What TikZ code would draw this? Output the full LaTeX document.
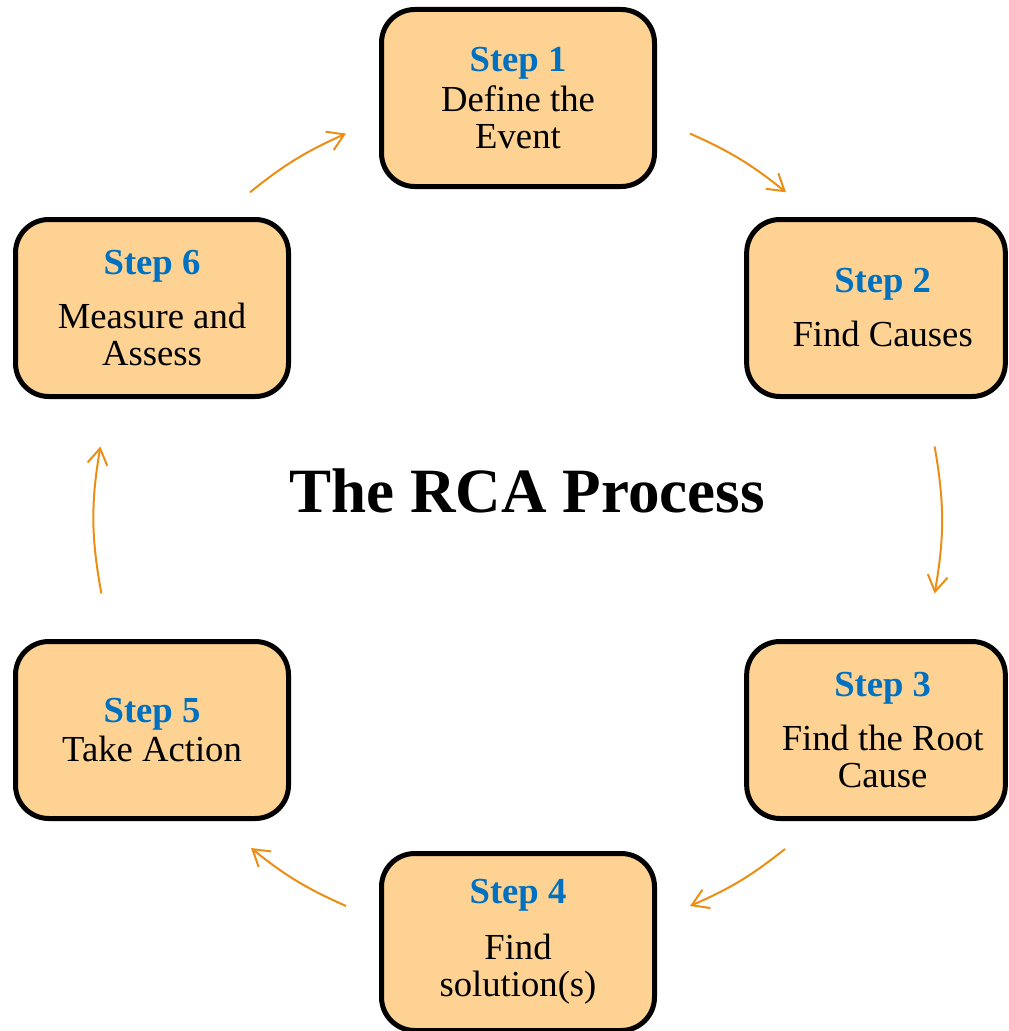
\documentclass[tikz,border=0pt]{standalone}
\usepackage{fontspec}
\setmainfont{Liberation Serif}
\usetikzlibrary{arrows.meta}
\definecolor{boxfill}{RGB}{253,210,146}
\definecolor{stepblue}{RGB}{0,112,192}
\definecolor{arrorange}{RGB}{236,142,20}
\newcommand{\stp}[1]{{\bfseries\color{stepblue}Step #1}}
\newcommand{\rs}{\hspace*{10pt}}
\begin{document}
\begin{tikzpicture}[x=0.75pt,y=0.75pt,
  stepbox/.style={draw=black, line width=3.75pt, fill=boxfill, rounded corners=25pt,
    minimum width=204.75pt, minimum height=132.75pt, align=center, inner sep=0pt,
    font=\fontsize{27.5}{27.75}\selectfont},
  rightbox/.style={stepbox, minimum width=194pt},
  flow/.style={draw=arrorange, line width=1.5pt,
    -{Straight Barb[length=12pt,width=15pt,line width=1.5pt]}},
  ]
\useasboundingbox (0,0) rectangle (1008,-1031);
\clip (0,0) rectangle (1008,-1031);
\node[stepbox] (s1) at (518,-98) {\stp{1}\\[2pt]Define the\\Event};
\node[rightbox] (s2) at (876,-308) {\rs\stp{2}\\[12.75pt]\rs Find Causes};
\node[rightbox] (s3) at (876,-730) {\rs\stp{3}\\[12.75pt]\rs Find the Root\\\rs Cause};
\node[stepbox] (s4) at (518,-942) {\stp{4}\\[14pt]Find\\solution(s)};
\node[stepbox] (s5) at (152,-730) {\stp{5}\\[1pt]Take Action};
\node[stepbox] (s6) at (152,-308) {\stp{6}\\[12.75pt]Measure and\\Assess};
\node[font=\bfseries\fontsize{47.3}{50}\selectfont, anchor=base] (title) at (527,-512) {The RCA Process};
\coordinate (a1) at (690,-133.6);
\coordinate (b1) at (786,-192.3);
\coordinate (a2) at (934.6,-446.5);
\coordinate (b2) at (934.6,-593.5);
\coordinate (a3) at (785,-849);
\coordinate (b3) at (690,-906);
\coordinate (a4) at (346,-906);
\coordinate (b4) at (251,-848);
\coordinate (a5) at (101.4,-593.5);
\coordinate (b5) at (100.4,-446.5);
\coordinate (a6) at (250,-192.3);
\coordinate (b6) at (346,-133.6);
\draw[flow] (a1) to[bend left=7.5] (b1);
\draw[flow] (a2) to[bend left=10] (b2);
\draw[flow] (a3) to[bend left=7.5] (b3);
\draw[flow] (a4) to[bend left=7.5] (b4);
\draw[flow] (a5) to[bend left=10] (b5);
\draw[flow] (a6) to[bend left=7.5] (b6);
\end{tikzpicture}
\end{document}
